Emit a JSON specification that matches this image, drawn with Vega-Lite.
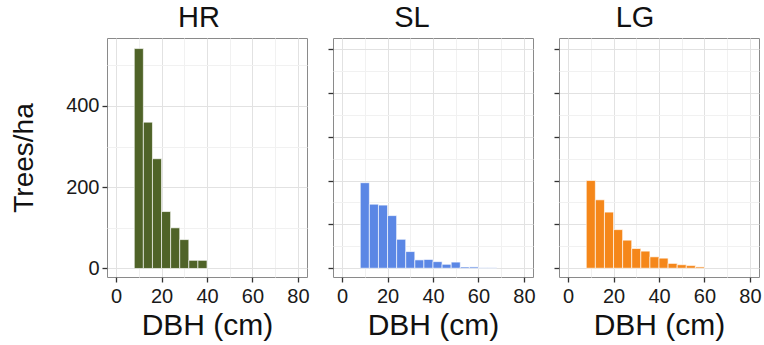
{
  "$schema": "https://vega.github.io/schema/vega-lite/v6.json",
  "padding": {"left": 10, "top": 3, "right": 0, "bottom": 0},
  "background": "white",
  "bounds": "flush",
  "spacing": 26,
  "config": {
    "font": "Liberation Sans",
    "view": {"stroke": "#8a8a8a", "strokeWidth": 1},
    "axis": {
      "domain": false,
      "tickColor": "#333333",
      "tickSize": 5,
      "tickWidth": 1.3,
      "labelFontSize": 20,
      "labelColor": "#1a1a1a",
      "labelPadding": 3,
      "labelFlush": false,
      "labelOverlap": false,
      "titleFontSize": 28,
      "titleFontWeight": "normal",
      "titleColor": "#111111",
      "gridWidth": 1
    },
    "axisX": {"labelPadding": 4, "titleFontSize": 30},
    "title": {"fontSize": 29, "fontWeight": "normal", "color": "#111111", "offset": 5, "anchor": "middle"}
  },
  "datasets": {
    "dbh": [
      {"site": "HR", "lo": 8, "hi": 12, "trees": 541},
      {"site": "HR", "lo": 12, "hi": 16, "trees": 360},
      {"site": "HR", "lo": 16, "hi": 20, "trees": 270},
      {"site": "HR", "lo": 20, "hi": 24, "trees": 140},
      {"site": "HR", "lo": 24, "hi": 28, "trees": 100},
      {"site": "HR", "lo": 28, "hi": 32, "trees": 71},
      {"site": "HR", "lo": 32, "hi": 36, "trees": 20},
      {"site": "HR", "lo": 36, "hi": 40, "trees": 20},
      {"site": "SL", "lo": 8, "hi": 12, "trees": 195},
      {"site": "SL", "lo": 12, "hi": 16, "trees": 146},
      {"site": "SL", "lo": 16, "hi": 20, "trees": 144},
      {"site": "SL", "lo": 20, "hi": 24, "trees": 120},
      {"site": "SL", "lo": 24, "hi": 28, "trees": 66},
      {"site": "SL", "lo": 28, "hi": 32, "trees": 38},
      {"site": "SL", "lo": 32, "hi": 36, "trees": 19},
      {"site": "SL", "lo": 36, "hi": 40, "trees": 20},
      {"site": "SL", "lo": 40, "hi": 44, "trees": 15},
      {"site": "SL", "lo": 44, "hi": 48, "trees": 9},
      {"site": "SL", "lo": 48, "hi": 52, "trees": 14},
      {"site": "SL", "lo": 52, "hi": 56, "trees": 3},
      {"site": "SL", "lo": 56, "hi": 60, "trees": 3},
      {"site": "SL", "lo": 60, "hi": 64, "trees": 1},
      {"site": "SL", "lo": 64, "hi": 68, "trees": 1},
      {"site": "LG", "lo": 8, "hi": 12, "trees": 200},
      {"site": "LG", "lo": 12, "hi": 16, "trees": 156},
      {"site": "LG", "lo": 16, "hi": 20, "trees": 128},
      {"site": "LG", "lo": 20, "hi": 24, "trees": 88},
      {"site": "LG", "lo": 24, "hi": 28, "trees": 64},
      {"site": "LG", "lo": 28, "hi": 32, "trees": 45},
      {"site": "LG", "lo": 32, "hi": 36, "trees": 39},
      {"site": "LG", "lo": 36, "hi": 40, "trees": 26},
      {"site": "LG", "lo": 40, "hi": 44, "trees": 23},
      {"site": "LG", "lo": 44, "hi": 48, "trees": 11},
      {"site": "LG", "lo": 48, "hi": 52, "trees": 8},
      {"site": "LG", "lo": 52, "hi": 56, "trees": 6},
      {"site": "LG", "lo": 56, "hi": 60, "trees": 3}
    ]
  },
  "resolve": {"scale": {"y": "independent", "x": "independent"}},
  "hconcat": [
    {
      "title": {"text": "HR", "dx": -8},
      "width": 200,
      "height": 239,
      "data": {"name": "dbh"},
      "transform": [{"filter": "datum.site === 'HR'"}],
      "mark": {"type": "bar", "fill": "#4F6328", "stroke": "#ffffff", "strokeWidth": 0.8, "strokeOpacity": 0.8},
      "encoding": {
        "x": {
          "field": "lo", "type": "quantitative", "title": "DBH (cm)",
          "scale": {"domain": [-4, 84], "nice": false, "zero": false},
          "axis": {
            "values": [0, 10, 20, 30, 40, 50, 60, 70, 80],
            "labelExpr": "datum.value % 20 === 0 ? datum.label : ''",
            "tickOpacity": {"condition": {"test": "datum.value % 20 === 0", "value": 1}, "value": 0},
            "gridColor": {"condition": {"test": "datum.value % 20 === 0", "value": "#e2e2e2"}, "value": "#f1f1f1"},
            "titlePadding": 4
          }
        },
        "x2": {"field": "hi"},
        "y": {
          "field": "trees", "type": "quantitative", "title": "Trees/ha",
          "scale": {"domain": [-21, 567], "nice": false, "zero": false},
          "axis": {
            "values": [0, 100, 200, 300, 400, 500],
            "labelExpr": "datum.value % 200 === 0 ? datum.label : ''",
            "tickOpacity": {"condition": {"test": "datum.value % 200 === 0", "value": 1}, "value": 0},
            "gridColor": {"condition": {"test": "datum.value % 200 === 0", "value": "#e2e2e2"}, "value": "#f1f1f1"},
            "titlePadding": 27
          }
        },
        "y2": {"datum": 0}
      }
    },
    {
      "title": {"text": "SL", "dx": -21},
      "width": 200,
      "height": 239,
      "data": {"name": "dbh"},
      "transform": [{"filter": "datum.site === 'SL'"}],
      "mark": {"type": "bar", "fill": "#5B87E5", "stroke": "#ffffff", "strokeWidth": 0.8, "strokeOpacity": 0.8},
      "encoding": {
        "x": {
          "field": "lo", "type": "quantitative", "title": "DBH (cm)",
          "scale": {"domain": [-4, 84], "nice": false, "zero": false},
          "axis": {
            "values": [0, 10, 20, 30, 40, 50, 60, 70, 80],
            "labelExpr": "datum.value % 20 === 0 ? datum.label : ''",
            "tickOpacity": {"condition": {"test": "datum.value % 20 === 0", "value": 1}, "value": 0},
            "gridColor": {"condition": {"test": "datum.value % 20 === 0", "value": "#e2e2e2"}, "value": "#f1f1f1"},
            "titlePadding": 4
          }
        },
        "x2": {"field": "hi"},
        "y": {
          "field": "trees", "type": "quantitative", "title": null,
          "scale": {"domain": [-20, 525], "nice": false, "zero": false},
          "axis": {
            "values": [0, 50, 100, 150, 200, 250, 300, 350, 400, 450, 500],
            "labels": false,
            "tickOpacity": {"condition": {"test": "datum.value % 100 === 0", "value": 1}, "value": 0},
            "gridColor": {"condition": {"test": "datum.value % 100 === 0", "value": "#e2e2e2"}, "value": "#f1f1f1"}
          }
        },
        "y2": {"datum": 0}
      }
    },
    {
      "title": {"text": "LG", "dx": -24},
      "width": 200,
      "height": 239,
      "data": {"name": "dbh"},
      "transform": [{"filter": "datum.site === 'LG'"}],
      "mark": {"type": "bar", "fill": "#F5871A", "stroke": "#ffffff", "strokeWidth": 0.8, "strokeOpacity": 0.8},
      "encoding": {
        "x": {
          "field": "lo", "type": "quantitative", "title": "DBH (cm)",
          "scale": {"domain": [-4, 84], "nice": false, "zero": false},
          "axis": {
            "values": [0, 10, 20, 30, 40, 50, 60, 70, 80],
            "labelExpr": "datum.value % 20 === 0 ? datum.label : ''",
            "tickOpacity": {"condition": {"test": "datum.value % 20 === 0", "value": 1}, "value": 0},
            "gridColor": {"condition": {"test": "datum.value % 20 === 0", "value": "#e2e2e2"}, "value": "#f1f1f1"},
            "titlePadding": 4
          }
        },
        "x2": {"field": "hi"},
        "y": {
          "field": "trees", "type": "quantitative", "title": null,
          "scale": {"domain": [-20, 525], "nice": false, "zero": false},
          "axis": {
            "values": [0, 50, 100, 150, 200, 250, 300, 350, 400, 450, 500],
            "labels": false,
            "tickOpacity": {"condition": {"test": "datum.value % 100 === 0", "value": 1}, "value": 0},
            "gridColor": {"condition": {"test": "datum.value % 100 === 0", "value": "#e2e2e2"}, "value": "#f1f1f1"}
          }
        },
        "y2": {"datum": 0}
      }
    }
  ]
}
